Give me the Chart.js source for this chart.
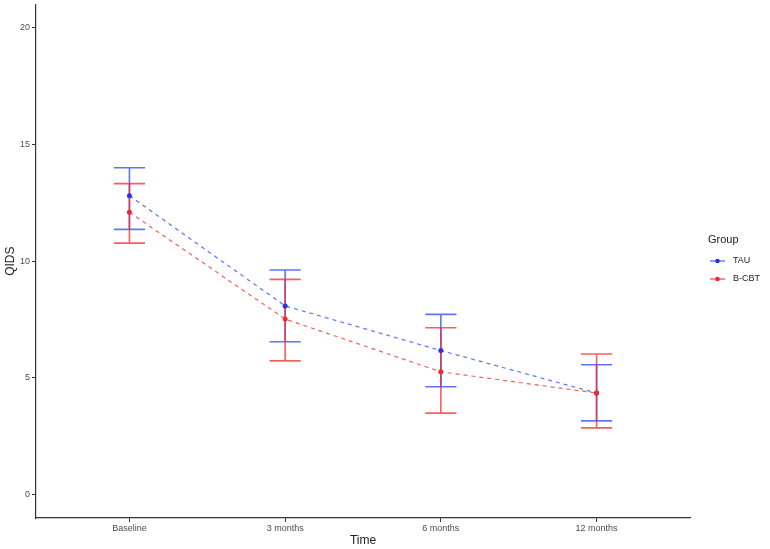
<!DOCTYPE html>
<html>
<head>
<meta charset="utf-8">
<script src="https://cdn.jsdelivr.net/npm/chart.js@4.4.1/dist/chart.umd.min.js"></script>
<style>
  body { margin: 0; background: #fff; }
</style>
</head>
<body>
<canvas id="qids-chart" width="770" height="549"></canvas>
<script>
// Data
const timeLabels = ["Baseline", "3 months", "6 months", "12 months"];
const groupNames = ["TAU", "B-CBT"];
const tauMean = [12.8, 8.08, 6.17, 4.35];
const tauUpper = [14.0, 9.62, 7.72, 5.56];
const tauLower = [11.36, 6.55, 4.62, 3.16];
const cbtMean = [12.09, 7.52, 5.26, 4.35];
const cbtUpper = [13.32, 9.22, 7.15, 6.02];
const cbtLower = [10.77, 5.73, 3.49, 2.86];
const yTickValues = [0, 5, 10, 15, 20];

const blueLine = "rgba(40, 70, 255, 0.75)";
const redLine = "rgba(245, 40, 40, 0.75)";
const bluePoint = "#2a32e6";
const redPoint = "#ee2a2a";
const axisColor = "#333";
const tickText = "#4d4d4d";
const fontFamily = "'Liberation Sans', Arial, sans-serif";

function toPoints(values) {
  return values.map((v, i) => ({ x: i, y: v }));
}

// Error bars drawn through the scales
const errorBarPlugin = {
  id: "errorBars",
  beforeDatasetsDraw(chart) {
    const ctx = chart.ctx;
    const xs = chart.scales.x;
    const ys = chart.scales.y;
    const bars = [
      { upper: tauUpper, lower: tauLower, color: blueLine },
      { upper: cbtUpper, lower: cbtLower, color: redLine },
    ];
    ctx.save();
    ctx.lineWidth = 1.6;
    bars.forEach((b) => {
      ctx.strokeStyle = b.color;
      b.upper.forEach((u, i) => {
        const x = xs.getPixelForValue(i);
        const x0 = xs.getPixelForValue(i - 0.1);
        const x1 = xs.getPixelForValue(i + 0.1);
        const yu = ys.getPixelForValue(u);
        const yl = ys.getPixelForValue(b.lower[i]);
        ctx.beginPath();
        ctx.moveTo(x, yu);
        ctx.lineTo(x, yl);
        ctx.moveTo(x0, yu);
        ctx.lineTo(x1, yu);
        ctx.moveTo(x0, yl);
        ctx.lineTo(x1, yl);
        ctx.stroke();
      });
    });
    ctx.restore();
  },
};

// ggplot style legend on the right
const sideLegendPlugin = {
  id: "sideLegend",
  afterDraw(chart) {
    const ctx = chart.ctx;
    const left = chart.chartArea.right + 18;
    ctx.save();
    ctx.fillStyle = "#222";
    ctx.font = "11px " + fontFamily;
    ctx.textBaseline = "middle";
    ctx.fillText("Group", left, 240);
    const items = [
      { label: groupNames[0], line: blueLine, point: bluePoint, y: 261 },
      { label: groupNames[1], line: redLine, point: redPoint, y: 279 },
    ];
    items.forEach((it) => {
      ctx.strokeStyle = it.line;
      ctx.lineWidth = 1.4;
      ctx.beginPath();
      ctx.moveTo(left + 2, it.y);
      ctx.lineTo(left + 17, it.y);
      ctx.stroke();
      ctx.fillStyle = it.point;
      ctx.beginPath();
      ctx.arc(left + 9.5, it.y, 2.3, 0, Math.PI * 2);
      ctx.fill();
      ctx.fillStyle = "#222";
      ctx.font = "9px " + fontFamily;
      ctx.fillText(it.label, left + 25, it.y);
    });
    ctx.restore();
  },
};

const ctx = document.getElementById("qids-chart").getContext("2d");
new Chart(ctx, {
  type: "line",
  data: {
    datasets: [
      {
        label: groupNames[0],
        data: toPoints(tauMean),
        borderColor: blueLine,
        borderWidth: 1.2,
        borderDash: [4, 4],
        pointRadius: 2.5,
        pointBackgroundColor: bluePoint,
        pointBorderWidth: 0,
        order: 2,
      },
      {
        label: groupNames[1],
        data: toPoints(cbtMean),
        borderColor: redLine,
        borderWidth: 1.2,
        borderDash: [4, 4],
        pointRadius: 2.5,
        pointBackgroundColor: redPoint,
        pointBorderWidth: 0,
        order: 1,
      },
    ],
  },
  options: {
    responsive: false,
    animation: false,
    layout: { padding: { top: 4, right: 80, left: 0, bottom: 0 } },
    plugins: {
      legend: { display: false },
      tooltip: { enabled: false },
    },
    scales: {
      x: {
        type: "linear",
        min: -0.6,
        max: 3.6,
        afterBuildTicks: (scale) => {
          scale.ticks = timeLabels.map((_, i) => ({ value: i }));
        },
        afterFit: (scale) => { scale.height = 31; },
        grid: { drawOnChartArea: false, drawTicks: true, tickLength: 4, color: axisColor },
        border: { display: true, color: axisColor, width: 1.2 },
        ticks: {
          color: tickText,
          padding: 1,
          maxRotation: 0,
          font: { family: fontFamily, size: 9 },
          callback: (v) => timeLabels[v],
        },
        title: {
          display: true,
          text: "Time",
          color: "#222",
          padding: { top: 0, bottom: 1 },
          font: { family: fontFamily, size: 12 },
        },
      },
      y: {
        min: -1,
        max: 21,
        afterBuildTicks: (scale) => {
          scale.ticks = yTickValues.map((v) => ({ value: v }));
        },
        afterFit: (scale) => { scale.width = 36; },
        grid: { drawOnChartArea: false, drawTicks: true, tickLength: 4, color: axisColor },
        border: { display: true, color: axisColor, width: 1.2 },
        ticks: {
          color: tickText,
          padding: 2,
          font: { family: fontFamily, size: 9, lineHeight: 0.5 },
        },
        title: {
          display: true,
          text: "QIDS",
          color: "#222",
          padding: { top: 3, bottom: 2 },
          font: { family: fontFamily, size: 12 },
        },
      },
    },
  },
  plugins: [errorBarPlugin, sideLegendPlugin],
});
</script>
</body>
</html>
